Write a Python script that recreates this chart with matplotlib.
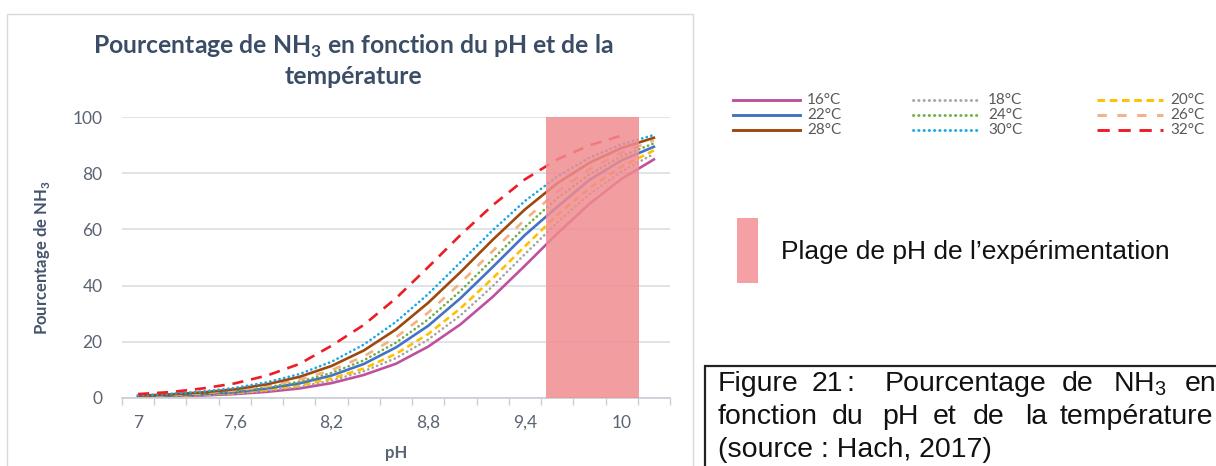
import matplotlib.pyplot as plt
from matplotlib.patches import Rectangle
from matplotlib.lines import Line2D

# pH values (categories) and % NH3
ph = [7.0, 7.2, 7.4, 7.6, 7.8, 8.0, 8.2, 8.4, 8.6, 8.8, 9.0, 9.2, 9.4, 9.6, 9.8, 10.0, 10.2]
ph_ticks = [7.0, 7.6, 8.2, 8.8, 9.4, 10.0]
ph_labels = ['7', '7,6', '8,2', '8,8', '9,4', '10']

pct_16 = [0.4, 0.6, 0.9, 1.4, 2.2, 3.4, 5.3, 8.2, 12.2, 18.3, 26.2, 36.0, 47.1, 58.5, 69.1, 78.0, 84.9]
pct_18 = [0.4, 0.7, 1.0, 1.6, 2.6, 4.0, 6.2, 9.5, 14.2, 20.8, 29.4, 39.8, 51.2, 62.4, 72.5, 80.6, 86.9]
pct_20 = [0.5, 0.7, 1.2, 1.8, 2.9, 4.5, 6.9, 10.5, 15.7, 22.8, 31.9, 42.6, 54.0, 65.1, 74.7, 82.4, 88.1]
pct_22 = [0.6, 0.9, 1.4, 2.1, 3.4, 5.2, 8.0, 12.1, 18.0, 25.7, 35.5, 46.6, 58.0, 68.0, 77.6, 84.6, 89.4]
pct_24 = [0.6, 1.0, 1.5, 2.4, 3.8, 5.8, 8.9, 13.4, 19.7, 28.0, 38.1, 49.4, 60.8, 71.1, 79.6, 86.1, 90.6]
pct_26 = [0.7, 1.1, 1.7, 2.7, 4.2, 6.5, 9.9, 14.8, 21.6, 30.4, 40.9, 52.3, 63.5, 73.4, 81.4, 87.4, 91.6]
pct_28 = [0.8, 1.3, 2.0, 3.1, 4.9, 7.5, 11.4, 16.9, 24.4, 33.9, 44.8, 56.3, 67.1, 76.4, 83.7, 89.0, 92.6]
pct_30 = [0.9, 1.5, 2.3, 3.6, 5.6, 8.5, 12.9, 19.0, 27.1, 37.0, 48.3, 59.7, 70.1, 78.8, 85.5, 90.3, 93.6]
pct_32 = [1.4, 2.1, 3.4, 5.2, 8.0, 12.1, 18.6, 26.0, 35.5, 46.6, 58.0, 68.6, 77.8, 84.9, 89.9, 93.4]

series = [
    ('16°C', pct_16), ('18°C', pct_18), ('20°C', pct_20),
    ('22°C', pct_22), ('24°C', pct_24), ('26°C', pct_26),
    ('28°C', pct_28), ('30°C', pct_30), ('32°C', pct_32),
]

# experimental pH range (shaded)
plage_ph = [9.53, 10.11]

styles = {
    '16°C': dict(color='#C0509E', ls='-'),
    '18°C': dict(color='#A5A5A5', ls=(0, (0.1, 1.7)), dash_capstyle='round'),
    '20°C': dict(color='#FFC000', ls=(0, (2.6, 1.6))),
    '22°C': dict(color='#4472C4', ls='-'),
    '24°C': dict(color='#70AD47', ls=(0, (0.1, 1.7)), dash_capstyle='round'),
    '26°C': dict(color='#F4B183', ls=(0, (3.2, 3.6))),
    '28°C': dict(color='#9E480E', ls='-'),
    '30°C': dict(color='#1AA7E8', ls=(0, (0.1, 1.7)), dash_capstyle='round'),
    '32°C': dict(color='#EE1C25', ls=(0, (4.2, 3.0))),
}

plt.rcParams['font.family'] = 'Lato'
plt.rcParams['mathtext.fontset'] = 'custom'
plt.rcParams['mathtext.rm'] = 'Liberation Sans'
plt.rcParams['mathtext.bf'] = 'Lato:bold'

W, H = 1216, 466
fig = plt.figure(figsize=(W / 100, H / 100), dpi=100)
ax = fig.add_axes([122 / W, 1 - 398 / H, 548 / W, 281 / H])

for name, vals in series:
    ax.plot(ph[:len(vals)], vals, lw=1.9, zorder=2, **styles[name])

ax.axvspan(plage_ph[0], plage_ph[1], color='#F08C90', alpha=0.85, lw=0, zorder=3)

ax.set_xlim(6.9, 10.3)
ax.set_ylim(0, 100)
ax.set_yticks([0, 20, 40, 60, 80, 100])
ax.set_xticks(ph_ticks)
ax.set_xticklabels(ph_labels)
ax.set_xticks([6.9 + 0.2 * k for k in range(18)], minor=True)
ax.tick_params(axis='x', which='major', length=0, pad=12, labelsize=12.5, labelcolor='#5A6473')
ax.tick_params(axis='x', which='minor', length=5, width=1, color='#C9CED6')
ax.tick_params(axis='y', length=0, pad=14, labelsize=12.5, labelcolor='#5A6473')
ax.grid(axis='y', color='#DDE1E6', lw=1.3, zorder=0)
for sp in ['top', 'right', 'left']:
    ax.spines[sp].set_visible(False)
ax.spines['bottom'].set_color('#C9CED6')
ax.spines['bottom'].set_linewidth(1.2)
ax.set_axisbelow(True)

ax.set_xlabel('pH', fontsize=12, fontweight='bold', color='#5A6473', labelpad=10)
ax.yaxis.set_label_coords(-0.127, 0.5)
ax.set_ylabel(r'Pourcentage de NH$_\mathbf{3}$', fontsize=12, fontweight='bold', color='#44546A')

fig.text(353 / W, 1 - 46 / H, r'Pourcentage de NH$_\mathbf{3}$ en fonction du pH et de la',
         ha='center', va='center', fontsize=17.8, fontweight='bold', color='#3B4D66')
fig.text(353 / W, 1 - 76 / H, 'température', ha='center', va='center',
         fontsize=17.8, fontweight='bold', color='#3B4D66')

# chart frame
fig.add_artist(Rectangle((7 / W, -0.02), 686 / W, 1.02 - 14 / H, transform=fig.transFigure,
                         fill=False, ec='#D9D9D9', lw=1))

# legend, 3 x 3, row-major
leg_cols = [(733, 800, 807), (913, 977, 988), (1097, 1163, 1170)]
leg_rows = [100, 115, 129.5]
for i, (name, vals) in enumerate(series):
    x0, x1, xt = leg_cols[i % 3]
    y = 1 - leg_rows[i // 3] / H
    fig.add_artist(Line2D([x0 / W, x1 / W], [y, y], transform=fig.transFigure, lw=2.1,
                          **styles[name]))
    fig.text(xt / W, y, name, ha='left', va='center', fontsize=11, color='#595959')

# legend of the shaded range
fig.add_artist(Rectangle((737 / W, 1 - 283 / H), 21 / W, 65 / H, transform=fig.transFigure,
                         color='#F4A0A4', lw=0))
fig.text(781 / W, 1 - 252 / H, 'Plage de pH de l’expérimentation', ha='left', va='center',
         fontsize=19, family='Liberation Sans', color='#111111')

# caption box
fig.add_artist(Rectangle((705 / W, -0.02), 0.5, 1.02 - 366 / H, transform=fig.transFigure,
                         fill=False, ec='#222222', lw=1.6))
cap_words1 = [(718, 'Figure'), (812, '21'), (846, ':'), (885, 'Pourcentage'), (1062, 'de'),
              (1113, r'NH$_3$'), (1185, 'en')]
cap_words2 = [(718, 'fonction'), (832, 'du'), (882, 'pH'), (933, 'et'), (973, 'de'),
              (1025, 'la'), (1060, 'température')]
capfont = dict(fontsize=20.5, family='Liberation Sans', color='#111111', va='center', ha='left')
for x, w in cap_words1:
    fig.text(x / W, 1 - 384 / H, w, **capfont)
for x, w in cap_words2:
    fig.text(x / W, 1 - 417 / H, w, **capfont)
fig.text(718 / W, 1 - 450 / H, '(source : Hach, 2017)', **capfont)

fig.savefig('out.png', dpi=100)
